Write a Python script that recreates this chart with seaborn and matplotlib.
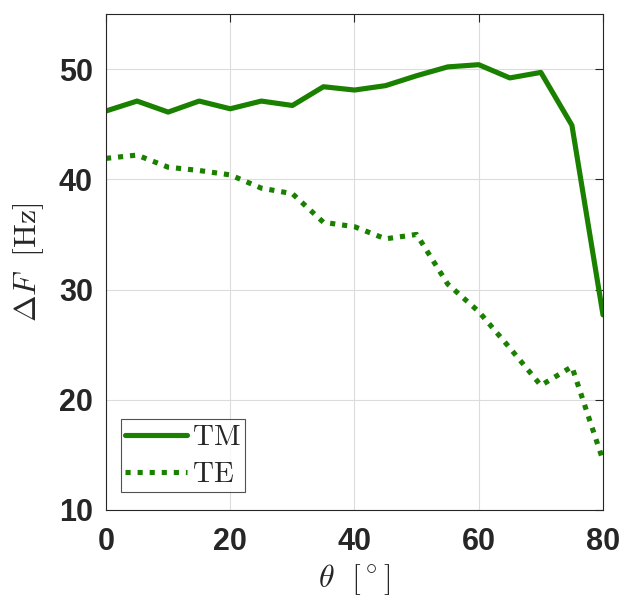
import numpy as np
import pandas as pd
import matplotlib
matplotlib.use("Agg")
import matplotlib.pyplot as plt
import seaborn as sns

theta = [0, 5, 10, 15, 20, 25, 30, 35, 40, 45, 50, 55, 60, 65, 70, 75, 80]
tm = [46.2, 47.1, 46.1, 47.1, 46.4, 47.1, 46.7, 48.4, 48.1, 48.5, 49.4, 50.2, 50.4, 49.2, 49.7, 44.9, 27.7]
te = [41.9, 42.2, 41.1, 40.8, 40.4, 39.2, 38.7, 36.1, 35.7, 34.6, 35.0, 30.5, 28.0, 24.7, 21.3, 23.0, 14.5]
x_ticks = [0, 20, 40, 60, 80]
y_ticks = [10, 20, 30, 40, 50]

sns.set_theme(style="white")
plt.rcParams["font.family"] = ["Liberation Sans", "DejaVu Sans"]
plt.rcParams["mathtext.fontset"] = "cm"

green = "#1a8000"
dot = (0, (1, 1.35))
fig = plt.figure(figsize=(6.21, 5.98), dpi=100)
ax = fig.add_axes([0.1707, 0.1472, 0.8003, 0.8294])

df_tm = pd.DataFrame({"theta": theta, "dF": tm})
df_te = pd.DataFrame({"theta": theta, "dF": te})
sns.lineplot(data=df_tm, x="theta", y="dF", ax=ax, color=green, lw=3.7,
             label=r"$\mathrm{TM}$")
sns.lineplot(data=df_te, x="theta", y="dF", ax=ax, color=green, lw=3.7,
             label=r"$\mathrm{TE}$")
line_te = ax.lines[1]
line_te.set_linestyle(dot)
line_te.set_dash_capstyle("butt")

ax.set_xlim(0, 80)
ax.set_ylim(10, 55)
ax.set_xticks(x_ticks)
ax.set_yticks(y_ticks)
ax.grid(True, color="#dcdcdc", lw=0.8)
for s in ax.spines.values():
    s.set_visible(True)
    s.set_color("#262626")
    s.set_linewidth(0.8)
ax.tick_params(direction="in", length=6, width=0.8, color="#262626",
               top=True, right=True, labelsize=22, labelcolor="#262626")
ax.tick_params(axis="x", pad=12)
ax.tick_params(axis="y", pad=9.5)
for t in ax.get_xticklabels() + ax.get_yticklabels():
    t.set_fontweight("bold")

ax.set_xlabel(r"$\theta\ \ [{}^\circ]$", fontsize=23, color="#262626", labelpad=4)
ax.set_ylabel(r"$\Delta F\ \ [\mathrm{Hz}]$", fontsize=23, color="#262626", labelpad=9)

leg = ax.legend(loc="lower left", fontsize=21, frameon=True, fancybox=False,
                edgecolor="#262626", handlelength=2.1, handletextpad=0.2,
                borderpad=0.15, labelspacing=0.3, borderaxespad=0,
                bbox_to_anchor=(0.030, 0.036))
leg.get_frame().set_linewidth(0.8)
leg.get_lines()[1].set_linestyle(dot)
leg.get_lines()[1].set_dash_capstyle("butt")

fig.savefig("out.png", dpi=100)
